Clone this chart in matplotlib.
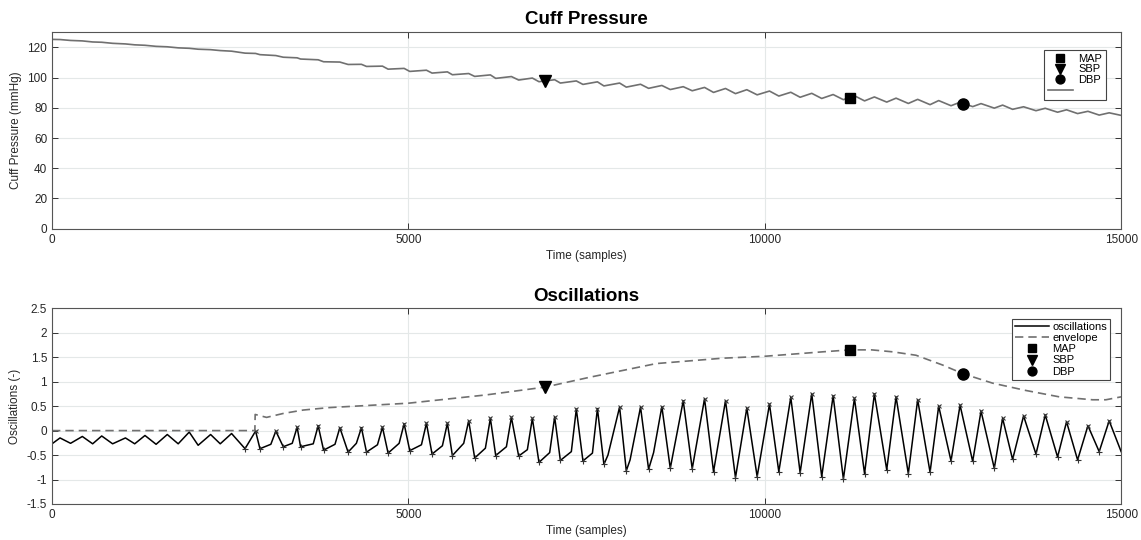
import matplotlib
matplotlib.use("Agg")
import matplotlib.pyplot as plt
import numpy as np

plt.rcParams['font.family'] = ['Liberation Sans', 'DejaVu Sans']

# cuff pressure trace (mmHg)
cuff_t = [0, 112, 260, 425, 570, 697, 850, 1030, 1160, 1304, 1460, 1617, 1770, 1925, 2050,
          2225, 2360, 2519, 2708, 2856, 2917, 3140, 3244, 3439, 3487, 3734, 3810, 4038, 4154,
          4341, 4412, 4636, 4715, 4940, 5019, 5253, 5332, 5547, 5617, 5846, 5930, 6150, 6225,
          6445, 6547, 6739, 6832, 7052, 7132, 7356, 7449, 7652, 7743, 7963, 8057, 8257, 8370,
          8556, 8674, 8856, 8982, 9155, 9281, 9449, 9589, 9748, 9893, 10066, 10197, 10365,
          10496, 10659, 10799, 10959, 11103, 11258, 11400, 11538, 11711, 11842, 12014, 12145,
          12319, 12440, 12613, 12740, 12917, 13034, 13220, 13337, 13477, 13631, 13805, 13935,
          14108, 14234, 14389, 14534, 14692, 14832, 15000]
cuff_v = [125.3, 125.2, 124.6, 124.3, 123.6, 123.4, 122.7, 122.3, 121.7, 121.4, 120.7, 120.4,
          119.7, 119.4, 118.8, 118.5, 117.9, 117.5, 116.2, 116.0, 115.2, 114.6, 113.5, 113.1,
          112.3, 111.8, 110.5, 110.3, 108.7, 108.8, 107.4, 107.6, 105.6, 106.1, 104.1, 104.9,
          103.0, 103.8, 101.9, 102.7, 100.8, 101.8, 99.5, 100.7, 98.4, 99.7, 97.3, 98.6, 96.4,
          97.8, 95.5, 97.2, 94.5, 96.4, 93.7, 95.6, 92.9, 94.8, 92.1, 94.0, 91.3, 93.5, 90.2,
          92.8, 89.4, 92.0, 88.6, 91.1, 87.8, 90.3, 87.0, 89.6, 86.2, 88.8, 85.4, 88.0, 84.6,
          87.2, 83.8, 86.4, 82.9, 85.6, 82.1, 84.8, 81.4, 83.7, 80.8, 82.8, 79.8, 81.8, 79.0,
          80.7, 78.1, 79.7, 77.1, 78.7, 76.2, 77.7, 75.2, 76.7, 75.0]

# oscillation signal: small bumps before onset
pre_t = [0, 112, 260, 425, 570, 697, 850, 1030, 1160, 1304, 1460, 1617, 1770, 1925, 2050,
         2225, 2360, 2519]
pre_v = [-0.27, -0.15, -0.26, -0.12, -0.27, -0.11, -0.27, -0.15, -0.27, -0.10, -0.28, -0.08,
         -0.27, -0.03, -0.30, -0.08, -0.27, -0.06]

# detected beat peaks (x markers)
peak_t = [2856, 3140, 3439, 3734, 4038, 4341, 4636, 4940, 5253, 5547, 5846, 6150, 6445, 6739,
          7052, 7356, 7652, 7963, 8257, 8556, 8856, 9155, 9449, 9748, 10066, 10365, 10659,
          10959, 11258, 11538, 11842, 12145, 12440, 12740, 13034, 13337, 13631, 13935, 14234,
          14534, 14832]
peak_v = [-0.01, -0.01, 0.07, 0.10, 0.06, 0.06, 0.07, 0.14, 0.15, 0.15, 0.20, 0.25, 0.27, 0.25,
          0.28, 0.44, 0.45, 0.48, 0.48, 0.49, 0.61, 0.65, 0.61, 0.46, 0.54, 0.68, 0.75, 0.71,
          0.66, 0.75, 0.69, 0.63, 0.50, 0.52, 0.40, 0.25, 0.30, 0.32, 0.18, 0.10, 0.20]

# detected beat troughs (+ markers)
trough_t = [2708, 2917, 3244, 3487, 3810, 4154, 4412, 4715, 5019, 5332, 5617, 5930, 6225, 6547,
            6832, 7132, 7449, 7743, 8057, 8370, 8674, 8982, 9281, 9589, 9893, 10197, 10496,
            10799, 11103, 11400, 11711, 12014, 12319, 12613, 12917, 13220, 13477, 13805, 14108,
            14389, 14692]
trough_v = [-0.37, -0.37, -0.33, -0.33, -0.40, -0.44, -0.44, -0.46, -0.41, -0.48, -0.51, -0.56,
            -0.51, -0.52, -0.65, -0.61, -0.62, -0.69, -0.82, -0.79, -0.77, -0.78, -0.84, -0.96,
            -0.94, -0.84, -0.86, -0.94, -0.99, -0.88, -0.80, -0.88, -0.85, -0.62, -0.63, -0.77,
            -0.59, -0.48, -0.54, -0.60, -0.43]

# slow-rise shoulder before each upstroke
knee_t = [3070, 3370, 3665, 3970, 4270, 4566, 4870, 5183, 5477, 5776, 6080, 6375, 6669, 6982,
          7286, 7582, 7800, 8110, 8440]
knee_v = [-0.28, -0.26, -0.27, -0.28, -0.26, -0.29, -0.26, -0.29, -0.31, -0.26, -0.36, -0.33,
          -0.39, -0.45, -0.43, -0.46, -0.50, -0.60, -0.45]

end_t = [15000]
end_v = [-0.43]

# envelope
env_t = [0, 2846, 2850, 3010, 3243, 3524, 3888, 5000, 6094, 6921, 7262, 7542, 8477, 9411,
         10006, 10813, 11197, 11500, 11795, 12122, 12495, 12786, 13196, 13664, 14131, 14599,
         14786, 15000]
env_v = [0, 0, 0.33, 0.27, 0.35, 0.42, 0.47, 0.56, 0.73, 0.89, 1.0, 1.09, 1.37, 1.48, 1.52,
         1.61, 1.65, 1.65, 1.61, 1.54, 1.34, 1.16, 0.97, 0.82, 0.69, 0.63, 0.63, 0.69]

# blood pressure points: (time, cuff pressure, envelope value)
map_pt = (11193, 86.6, 1.65)
sbp_pt = (6918, 97.6, 0.89)
dbp_pt = (12786, 82.4, 1.15)

osc_t = np.array(pre_t + trough_t + peak_t + knee_t + end_t)
osc_v = np.array(pre_v + trough_v + peak_v + knee_v + end_v)
order = np.argsort(osc_t)
osc_t = osc_t[order]
osc_v = osc_v[order]

fig = plt.figure(figsize=(11.41, 5.4), dpi=100)
ax1 = fig.add_axes([0.0456, 0.5765, 0.937, 0.3637])
ax2 = fig.add_axes([0.0456, 0.0667, 0.937, 0.3624])


def style(ax):
    ax.set_xlim(0, 15000)
    ax.set_xticks([0, 5000, 10000, 15000])
    ax.grid(True, color='#e4e8e8', linewidth=0.8)
    ax.set_axisbelow(True)
    ax.tick_params(direction='in', top=True, right=True, length=4, width=0.7,
                   labelsize=8.5, colors='#333333', labelcolor='#262626')
    for s in ax.spines.values():
        s.set_color('#555555')
        s.set_linewidth(0.8)
    ax.set_xlabel('Time (samples)', fontsize=8.5, color='#262626', labelpad=3)


# top panel
cuff_line, = ax1.plot(cuff_t, cuff_v, color='#707070', linewidth=1.2)
m1, = ax1.plot(map_pt[0], map_pt[1], 's', color='black', markersize=7, linestyle='none')
s1, = ax1.plot(sbp_pt[0], sbp_pt[1], 'v', color='black', markersize=8.5, linestyle='none')
d1, = ax1.plot(dbp_pt[0], dbp_pt[1], 'o', color='black', markersize=8, linestyle='none')
style(ax1)
ax1.set_ylim(0, 130)
ax1.set_yticks([0, 20, 40, 60, 80, 100, 120])
ax1.set_ylabel('Cuff Pressure (mmHg)', fontsize=8.5, color='#262626', labelpad=4)
ax1.set_title('Cuff Pressure', fontsize=13.5, fontweight='bold', pad=6)
leg1 = ax1.legend([m1, s1, d1, cuff_line], ['MAP', 'SBP', 'DBP', ' '], loc='upper right',
                  bbox_to_anchor=(0.991, 0.94), fontsize=8, fancybox=False, framealpha=1,
                  edgecolor='#444444', handlelength=2.2, borderpad=0.35, labelspacing=0.08,
                  handletextpad=0.5, markerscale=0.8)
leg1.get_frame().set_linewidth(0.8)

# bottom panel
osc_line, = ax2.plot(osc_t, osc_v, color='black', linewidth=1.1)
ax2.plot(peak_t, peak_v, 'x', color='#333333', markersize=3.5, markeredgewidth=0.8)
ax2.plot(trough_t, trough_v, '+', color='#333333', markersize=4.5, markeredgewidth=0.8)
env_line, = ax2.plot(env_t, env_v, color='#707070', linewidth=1.2, dashes=(5, 3))
m2, = ax2.plot(map_pt[0], map_pt[2], 's', color='black', markersize=7, linestyle='none')
s2, = ax2.plot(sbp_pt[0], sbp_pt[2], 'v', color='black', markersize=8.5, linestyle='none')
d2, = ax2.plot(dbp_pt[0], dbp_pt[2], 'o', color='black', markersize=8, linestyle='none')
style(ax2)
ax2.set_ylim(-1.5, 2.5)
ax2.set_yticks([-1.5, -1, -0.5, 0, 0.5, 1, 1.5, 2, 2.5])
ax2.set_yticklabels(['-1.5', '-1', '-0.5', '0', '0.5', '1', '1.5', '2', '2.5'])
ax2.set_ylabel('Oscillations (-)', fontsize=8.5, color='#262626', labelpad=4)
ax2.set_title('Oscillations', fontsize=13.5, fontweight='bold', pad=5)
leg2 = ax2.legend([osc_line, env_line, m2, s2, d2],
                  ['oscillations', 'envelope', 'MAP', 'SBP', 'DBP'], loc='upper right',
                  bbox_to_anchor=(0.995, 0.975), fontsize=8, fancybox=False, framealpha=1,
                  edgecolor='#444444', handlelength=3.0, borderpad=0.3, labelspacing=0.1,
                  handletextpad=0.3, markerscale=0.8)
leg2.get_frame().set_linewidth(0.8)

fig.savefig('out.png', dpi=100)
